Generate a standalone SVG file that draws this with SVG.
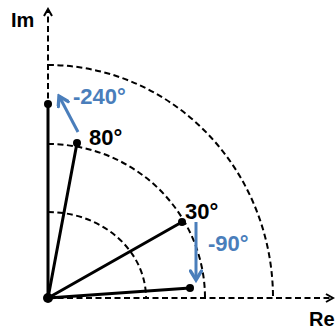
<svg xmlns="http://www.w3.org/2000/svg" width="336" height="329" viewBox="0 0 336 329">
<defs>
<style>
.dash{fill:none;stroke:#000;stroke-width:2;stroke-dasharray:6,3.5}
.vec{stroke:#000;stroke-width:3;stroke-linecap:round}
.blue{stroke:#4a7ebb;stroke-width:3;fill:none}
.lbl{font-family:"Liberation Sans",Arial,sans-serif;font-weight:bold;font-size:22px}
.ax{font-family:"Liberation Sans",Arial,sans-serif;font-weight:bold;font-size:20px;fill:#000}
</style>
<marker id="chev" viewBox="0 0 10 10" refX="8" refY="5" markerWidth="10" markerHeight="10" markerUnits="userSpaceOnUse" orient="auto">
<path d="M1,1 L8,5 L1,9" fill="none" stroke="#000" stroke-width="2"/>
</marker>
<marker id="barrow" viewBox="0 0 10 10" refX="8" refY="5" markerWidth="14" markerHeight="14" markerUnits="userSpaceOnUse" orient="auto">
<path d="M1.5,1 L8,5 L1.5,9" fill="none" stroke="#4a7ebb" stroke-width="2.4" stroke-linecap="round"/>
</marker>
</defs>
<g id="axes">
<line class="dash" x1="48" y1="298" x2="48" y2="9" marker-end="url(#chev)"/>
<line class="dash" x1="48" y1="298" x2="333" y2="298" marker-end="url(#chev)"/>
<text class="ax" x="11" y="27">Im</text>
<text class="ax" x="309" y="326">Re</text>
</g>
<g id="arcs">
<path class="dash" d="M48,212 A98,86 0 0 1 146,298"/>
<path class="dash" d="M48,144 A157,154 0 0 1 205,298"/>
<path class="dash" d="M48,65 A225,233 0 0 1 273,298"/>
</g>
<g id="vectors">
<line class="vec" x1="48" y1="298" x2="48" y2="104"/>
<line class="vec" x1="48" y1="298" x2="77" y2="143"/>
<line class="vec" x1="48" y1="298" x2="182" y2="222"/>
<line class="vec" x1="48" y1="298" x2="190" y2="288"/>
<circle cx="48" cy="298" r="5"/>
<circle cx="48" cy="104" r="4"/>
<circle cx="77" cy="143" r="4"/>
<circle cx="182" cy="222" r="4"/>
<circle cx="190" cy="288" r="4"/>
</g>
<g id="connectors">
<line class="blue" x1="78" y1="132" x2="59" y2="96" marker-end="url(#barrow)"/>
<line class="blue" x1="196" y1="222" x2="196" y2="280" marker-end="url(#barrow)"/>
</g>
<g id="labels">
<text class="lbl" x="73" y="104" fill="#4a7ebb">-240°</text>
<text class="lbl" x="89" y="145" fill="#000">80°</text>
<text class="lbl" x="185" y="219" fill="#000">30°</text>
<text class="lbl" x="208" y="251" fill="#4a7ebb">-90°</text>
</g>
</svg>
